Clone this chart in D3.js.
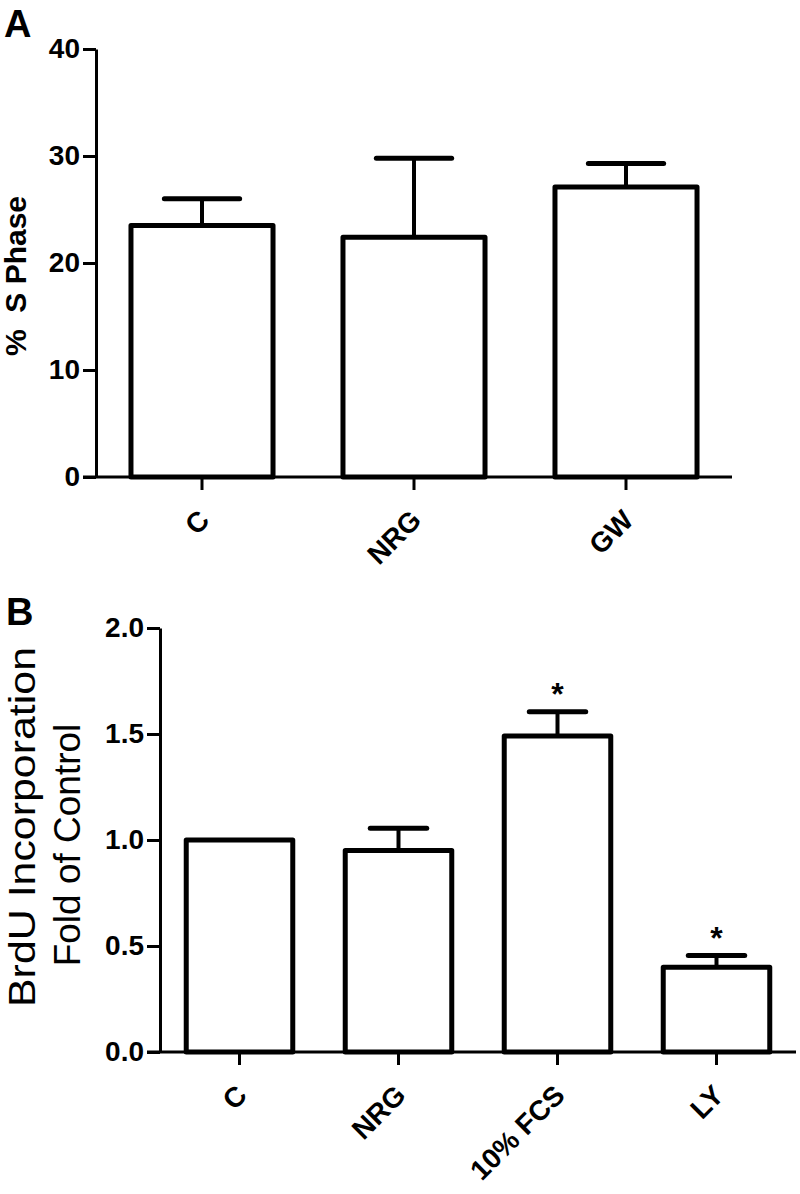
<!DOCTYPE html>
<html><head><meta charset="utf-8">
<script src="https://cdn.jsdelivr.net/npm/d3@7"></script>
<style>
html,body{margin:0;padding:0;background:#fff;}
svg text{font-family:"Liberation Sans",Arial,sans-serif;fill:#000;}
</style></head>
<body>
<svg id="chart" width="800" height="1194"></svg>
<script>
// Panel A data
const catsA = ["C", "NRG", "GW"];
const meanA = [23.5, 22.4, 27.1];
const semA = [2.5, 7.4, 2.2];
const ticksA = [0, 10, 20, 30, 40];
// Panel B data
const catsB = ["C", "NRG", "10% FCS", "LY"];
const meanB = [1.0, 0.95, 1.49, 0.40];
const semB = [0, 0.105, 0.115, 0.055];
const sigB = [false, false, true, true];
const ticksB = [0, 0.5, 1.0, 1.5, 2.0];

const svg = d3.select("#chart");

function panel(cfg) {
  const g = svg.append("g");
  const x = d3.scaleBand().domain(cfg.cats).range([cfg.x0, cfg.x1]).paddingInner(0.33).paddingOuter(0.165);
  const y = d3.scaleLinear().domain([0, cfg.ymax]).range([cfg.y0, cfg.y1]);

  // bars
  g.selectAll("rect.bar").data(cfg.cats).join("rect")
    .attr("x", d => x(d)).attr("width", x.bandwidth())
    .attr("y", (d, i) => y(cfg.mean[i]))
    .attr("height", (d, i) => cfg.y0 - y(cfg.mean[i]))
    .attr("fill", "#fff").attr("stroke", "#000").attr("stroke-width", 5)
    .attr("stroke-linejoin", "round");

  // error bars
  const capW = x.bandwidth() * 0.53;
  cfg.cats.forEach((c, i) => {
    if (!cfg.sem[i]) return;
    const cx = x(c) + x.bandwidth() / 2;
    g.append("line").attr("x1", cx).attr("x2", cx)
      .attr("y1", y(cfg.mean[i])).attr("y2", y(cfg.mean[i] + cfg.sem[i]))
      .attr("stroke", "#000").attr("stroke-width", 4);
    g.append("line").attr("x1", cx - capW / 2).attr("x2", cx + capW / 2)
      .attr("y1", y(cfg.mean[i] + cfg.sem[i])).attr("y2", y(cfg.mean[i] + cfg.sem[i]))
      .attr("stroke", "#000").attr("stroke-width", 5).attr("stroke-linecap", "round");
    if (cfg.sig && cfg.sig[i]) {
      g.append("text").attr("x", cx).attr("y", y(cfg.mean[i] + cfg.sem[i]) - 7)
        .attr("text-anchor", "middle").attr("font-size", 32).attr("font-weight", "bold").text("*");
    }
  });

  // y axis
  const ya = g.append("g").attr("transform", `translate(${cfg.x0},0)`)
    .call(d3.axisLeft(y).tickValues(cfg.ticks).tickFormat(cfg.fmt).tickSizeInner(13).tickSizeOuter(0).tickPadding(3));
  ya.select(".domain").attr("stroke-width", 3);
  ya.selectAll(".tick line").attr("stroke-width", 3);
  ya.selectAll(".tick text").attr("font-size", 28).attr("font-weight", "bold")
    .attr("font-family", "Liberation Sans, Arial, sans-serif");

  // x axis
  const xa = g.append("g").attr("transform", `translate(0,${cfg.y0})`)
    .call(d3.axisBottom(x).tickSizeInner(13).tickSizeOuter(0).tickPadding(0));
  xa.select(".domain").attr("stroke-width", 3).attr("d", `M${cfg.x0 - 13},0H${cfg.x1}`);
  xa.selectAll(".tick line").attr("stroke-width", 3);
  xa.selectAll(".tick text").attr("font-size", 28).attr("font-weight", "bold")
    .attr("font-family", "Liberation Sans, Arial, sans-serif")
    .attr("text-anchor", "end").attr("dy", "0.35em")
    .attr("transform", "translate(2,38) rotate(-45)").attr("y", 0).attr("x", 0);

  // panel letter
  g.append("text").attr("x", cfg.letterX).attr("y", cfg.letterY)
    .attr("font-size", 38).attr("font-weight", "bold").text(cfg.letter);
  return {x, y, g};
}

const A = panel({cats: catsA, mean: meanA, sem: semA, ticks: ticksA, ymax: 40,
  x0: 96, x1: 732, y0: 477, y1: 49, fmt: d3.format("d"), letter: "A", letterX: 4, letterY: 37});
A.g.append("text").attr("transform", "translate(26,276) rotate(-90)")
  .attr("text-anchor", "middle").attr("font-size", 30).attr("font-weight", "bold")
  .attr("xml:space", "preserve").style("white-space", "pre").text("%  S Phase");

const B = panel({cats: catsB, mean: meanB, sem: semB, sig: sigB, ticks: ticksB, ymax: 2,
  x0: 160, x1: 796, y0: 1052, y1: 628, fmt: d3.format(".1f"), letter: "B", letterX: 6, letterY: 625});
B.g.append("text").attr("transform", "translate(35,827) rotate(-90)")
  .attr("text-anchor", "middle").attr("font-size", 37)
  .attr("textLength", 360).attr("lengthAdjust", "spacingAndGlyphs").text("BrdU Incorporation");
B.g.append("text").attr("transform", "translate(80,845) rotate(-90)")
  .attr("text-anchor", "middle").attr("font-size", 37).text("Fold of Control");
</script>
</body></html>
